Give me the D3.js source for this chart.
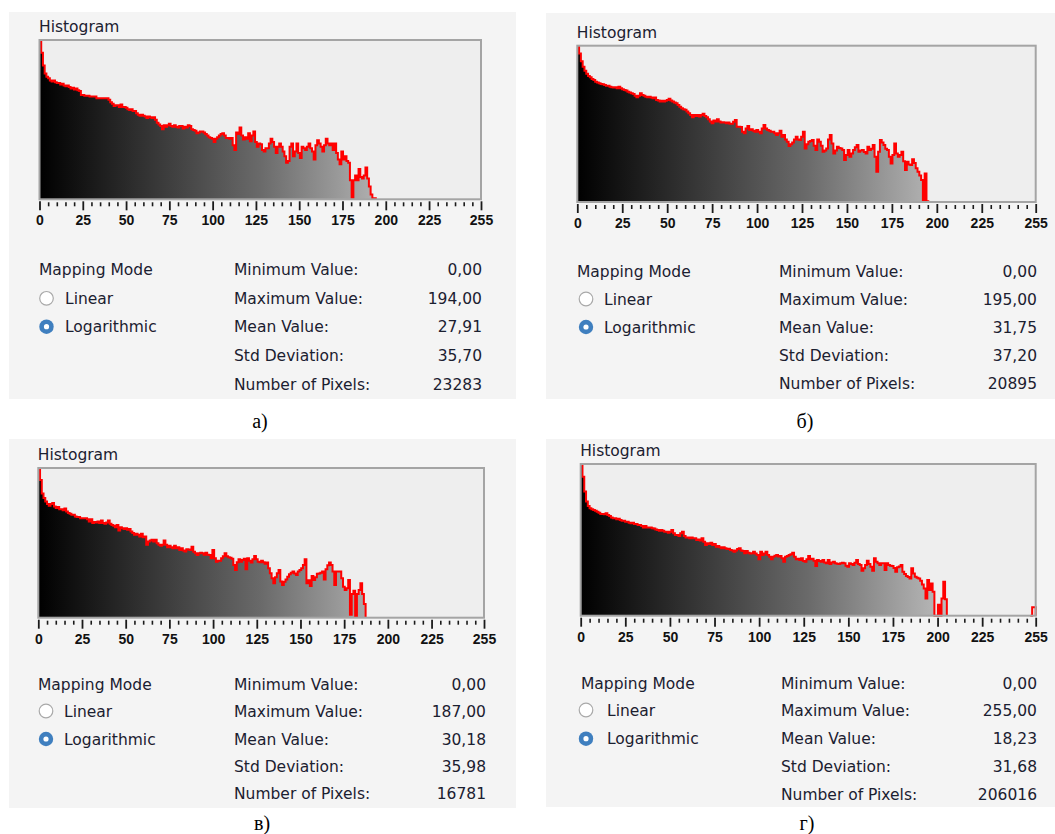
<!DOCTYPE html>
<html>
<head>
<meta charset="utf-8">
<script src="https://cdn.jsdelivr.net/npm/d3@7"></script>
<style>
  body { margin: 0; background: #fff; }
  svg { display: block; }
</style>
</head>
<body>
<svg id="chart" width="1055" height="834"></svg>
<script>
// tick labels of the 0..255 grey-level axis
const majorTicks = [0, 25, 50, 75, 100, 125, 150, 175, 200, 225, 255];
const statLabels = ["Minimum Value:", "Maximum Value:", "Mean Value:", "Std Deviation:", "Number of Pixels:"];
const modeLabels = ["Mapping Mode", "Linear", "Logarithmic"];
const captions = ["а)", "б)", "в)", "г)"];

const statsA = ["0,00", "194,00", "27,91", "35,70", "23283"];
const statsB = ["0,00", "195,00", "31,75", "37,20", "20895"];
const statsC = ["0,00", "187,00", "30,18", "35,98", "16781"];
const statsD = ["0,00", "255,00", "18,23", "31,68", "206016"];

// histogram heights per grey level (0..255), logarithmic mapping, % of plot height
const histA = [
  99.5, 92, 84, 79, 77, 76, 74.5, 74, 74.5, 73.5,
  73, 73, 72, 72.5, 71.5, 71, 71.5, 70.5, 69.5, 70,
  69, 69.5, 68.5, 68, 65.5, 65.5, 65, 65, 65, 64.5,
  64.5, 64.5, 64.5, 63.5, 63.5, 63.5, 63.5, 63.5, 63.5, 63.5,
  62.5, 61, 60, 58.5, 59, 59, 58, 59.5, 58, 58,
  57.5, 56.5, 56, 56.5, 55.5, 55.5, 54, 53, 52.5, 53,
  52.5, 52, 51, 52, 51.5, 51, 51.5, 50, 48, 47,
  46, 44, 46.5, 45.5, 46.5, 47.5, 46, 45.5, 46.5, 45.5,
  45, 46, 46, 44.5, 45.5, 45, 46.5, 46, 44, 43.5,
  43, 41.5, 42, 42.5, 42.5, 42, 41, 40, 39, 38.5,
  38, 36, 38, 39, 40, 41, 41.5, 40, 38.5, 38.5,
  38, 38.5, 34, 31, 42, 41, 45, 40, 37.5, 39,
  38, 41.5, 36.5, 40, 42.5, 36, 33, 35, 34.5, 31,
  30, 32, 32, 35, 38, 36, 33, 29, 33, 35,
  33, 30, 27, 23, 24, 33, 35, 27, 30, 35,
  29, 26, 33, 32, 31, 33, 35, 32, 30, 25,
  34, 37, 35, 33, 30, 34, 38, 35, 34, 35,
  31, 35, 29, 25, 22, 30, 25, 27, 24, 23,
  12, 1, 12, 15, 12, 19, 14, 13, 15, 20,
  13, 8, 3, 0.6, 0.6, 0, 0, 0, 0, 0,
  0, 0, 0, 0, 0, 0, 0, 0, 0, 0,
  0, 0, 0, 0, 0, 0, 0, 0, 0, 0,
  0, 0, 0, 0, 0, 0, 0, 0, 0, 0,
  0, 0, 0, 0, 0, 0, 0, 0, 0, 0,
  0, 0, 0, 0, 0, 0, 0, 0, 0, 0,
  0, 0, 0, 0, 0, 0
];

const histB = [
  99.4, 95, 90, 86.6, 84, 82, 80.6, 79.8, 78.7, 78,
  77, 76.4, 76, 75.5, 75.3, 74.9, 74.3, 74.3, 73.8, 73.4,
  73.2, 73.4, 72.8, 73.8, 72.8, 72.1, 71.7, 71.3, 70.6, 70,
  69.6, 69.1, 68, 67, 67.9, 69.6, 68.5, 67.9, 67.4, 67,
  67.4, 66.8, 66.4, 66.8, 65.3, 64.9, 64.3, 64.7, 64.3, 64.7,
  65.3, 66, 64.9, 64.3, 63.6, 63.2, 62.1, 61, 60, 59.4,
  59, 57.9, 56.8, 55.7, 54.3, 55.7, 55.1, 55.7, 54.7, 55.7,
  56.4, 55.1, 54.3, 53, 51.5, 50.4, 52.1, 51.5, 53, 51.5,
  50.9, 51, 50.9, 50.4, 50.9, 50, 50, 51.4, 52.5, 48.2,
  48.2, 48, 45, 44, 47, 48.6, 46, 46.5, 45.6, 45,
  46, 45, 44, 47, 49.3, 47, 46, 45.6, 45, 45,
  44, 42.9, 44, 45.6, 41.8, 42.9, 40, 38.6, 35.8, 37,
  38, 40, 41.8, 40, 39.7, 41.8, 45, 34.3, 37, 38.6,
  39, 39.7, 36, 33.3, 40, 38.6, 36, 32.2, 33, 34.3,
  40, 42.9, 37.5, 31.1, 33, 35.4, 34.5, 34.3, 33.3, 26.9,
  30, 33.3, 28.9, 31, 33.3, 35, 36.5, 32.2, 33, 33.3,
  32, 31.1, 35.4, 33.3, 34, 36.5, 28.9, 19.4, 32.2, 39.7,
  38, 36.5, 34, 33.3, 28.9, 24.7, 30, 37.5, 31.1, 28.9,
  30, 32.2, 26, 20.5, 25.8, 24, 23.7, 27.3, 25, 21.6,
  19.4, 17, 14, 0.5, 18.3, 0.5, 0, 0, 0, 0,
  0, 0, 0, 0, 0, 0, 0, 0, 0, 0,
  0, 0, 0, 0, 0, 0, 0, 0, 0, 0,
  0, 0, 0, 0, 0, 0, 0, 0, 0, 0,
  0, 0, 0, 0, 0, 0, 0, 0, 0, 0,
  0, 0, 0, 0, 0, 0, 0, 0, 0, 0,
  0, 0, 0, 0, 0, 0
];

const histC = [
  99.3, 92, 83, 80, 77.7, 76, 74.8, 76, 76.6, 74.3,
  73.2, 73.9, 72.5, 72.5, 71.7, 73, 71, 69.9, 69.4, 68.8,
  68.8, 67.6, 67.2, 67.2, 66.5, 66.5, 66.5, 66.5, 65.8, 64.3,
  65.8, 63.2, 64, 63.6, 64.3, 63.2, 65, 63.2, 62.7, 63.6,
  65, 62.7, 62, 61.4, 60.5, 62, 58.3, 60.5, 59.8, 59.2,
  59.8, 58.7, 59.2, 57.6, 56.5, 55.4, 56, 55.4, 54.2, 56,
  53.8, 54.2, 48.7, 50.9, 51.6, 52, 50.9, 52, 49.8, 48.7,
  48, 48.7, 51.6, 48.7, 47.1, 48, 47.1, 46.4, 48, 46.4,
  47.1, 45.3, 46.4, 44.9, 44.2, 45.8, 45.5, 45.2, 47.4, 44,
  43, 41.9, 43, 43.4, 43, 42, 43.4, 42, 41.9, 39.7,
  45.2, 39.7, 37.4, 38, 38, 39.7, 41, 43, 41, 40.4,
  40, 39.4, 35.2, 31.9, 37, 39, 37.4, 38.5, 39.4, 32.3,
  39.7, 38, 36.8, 39, 41.2, 39, 37.4, 37, 38, 37,
  36.1, 36.8, 33, 29.7, 26.3, 23, 27, 29.7, 31.9, 24.1,
  21.8, 24, 25.6, 27.4, 29, 30.1, 30.8, 29.5, 28.6, 30.8,
  31.9, 33, 35.2, 39, 23, 25, 21.1, 27.9, 25.2, 27,
  29.3, 29.5, 30.1, 30.8, 25.6, 32.3, 35, 36.8, 35.2, 30.8,
  21.8, 30.8, 30.8, 30.8, 26.3, 20.7, 18.5, 19.6, 25.2, 2,
  15.8, 18, 1, 15.8, 18.5, 23, 15.8, 9.1, 0, 0,
  0, 0, 0, 0, 0, 0, 0, 0, 0, 0,
  0, 0, 0, 0, 0, 0, 0, 0, 0, 0,
  0, 0, 0, 0, 0, 0, 0, 0, 0, 0,
  0, 0, 0, 0, 0, 0, 0, 0, 0, 0,
  0, 0, 0, 0, 0, 0, 0, 0, 0, 0,
  0, 0, 0, 0, 0, 0, 0, 0, 0, 0,
  0, 0, 0, 0, 0, 0
];

const histD = [
  99.3, 91.6, 81.8, 75.2, 72.3, 70.8, 70.1, 69.7, 69.2, 68.6,
  67.9, 67, 67, 66.8, 67.5, 66.4, 65.7, 64.8, 64.2, 64.2,
  63.5, 63.9, 63.1, 62.6, 62.6, 62, 62, 61.3, 60.9, 61.3,
  60.4, 60.4, 59.8, 59.8, 59.1, 58.2, 59.1, 58.2, 58.2, 58.2,
  57.6, 57.4, 56.9, 56.5, 56, 56.5, 56, 55.4, 55.4, 54.7,
  55.4, 56.5, 54.3, 53.2, 53.2, 52.5, 54.3, 55.4, 52.5, 51.6,
  51.6, 51, 51.6, 51, 51, 49.9, 50.3, 49.5, 51, 48.8,
  46.6, 47.7, 47.3, 48.1, 46.6, 47.3, 45.5, 45.9, 45.1, 44.4,
  45.1, 44.5, 44, 44.2, 43.3, 43, 42.2, 43, 44, 44.4,
  43, 42.6, 41.1, 42.6, 41.5, 41, 41.1, 42.2, 41, 40,
  37.2, 42.2, 40, 41, 42.2, 40, 38.9, 37.2, 38.9, 39.5,
  40, 39, 39.3, 37.8, 35.6, 38.9, 39.3, 40, 40.5, 41.5,
  38.9, 37.2, 37.5, 36.7, 37.8, 36, 35.6, 37.2, 39.3, 37.2,
  37.5, 36.3, 32.8, 36.7, 36, 35.6, 36.7, 35, 34.5, 36.7,
  34.1, 35, 35.6, 34.5, 34.3, 34.1, 34.5, 34.9, 34.5, 33,
  32.3, 34.5, 34, 33.4, 34.9, 36.7, 34, 33.4, 29.7, 31.2,
  33.5, 36.3, 34, 32.3, 29.7, 37.8, 35.6, 34.5, 33.4, 34.5,
  34.5, 30.1, 34.5, 33.4, 33, 32.8, 31.5, 29, 31.9, 32.5,
  33.4, 29, 27.5, 26.1, 25.5, 24.6, 31.2, 27.9, 25.7, 25,
  24.6, 23.1, 20.5, 18, 11.4, 23.5, 16.9, 21.3, 15.8, 0,
  0, 7.2, 0, 11.4, 22.4, 10.8, 0, 0, 0, 0,
  0, 0, 0, 0, 0, 0, 0, 0, 0, 0,
  0, 0, 0, 0, 0, 0, 0, 0, 0, 0,
  0, 0, 0, 0, 0, 0, 0, 0, 0, 0,
  0, 0, 0, 0, 0, 0, 0, 0, 0, 0,
  0, 0, 0, 0, 5.6, 5.6
];

// layout of the four screenshots: panel box, plot frame [left, top, right, bottom], text rows
const panels = [
  { hist: histA, stats: statsA, caption: captions[0], box: [9, 12, 516, 399], plot: [39.5, 40, 481, 199.3],
    modeX: 39, radioX: 46.5, radioTextX: 65, statX: 234, valueX: 482,
    rows: [269.3, 298.3, 326.7, 355.7, 384.3], cap: [260, 421] },
  { hist: histB, stats: statsB, caption: captions[1], box: [546, 13, 1055, 399], plot: [577.3, 45.7, 1035.7, 202],
    modeX: 577, radioX: 586, radioTextX: 604, statX: 779, valueX: 1037,
    rows: [271, 299, 327, 355, 383], cap: [805, 421] },
  { hist: histC, stats: statsC, caption: captions[2], box: [9, 439, 516, 808], plot: [38.3, 468, 484, 617.7],
    modeX: 38, radioX: 46, radioTextX: 64, statX: 234, valueX: 486,
    rows: [684, 711, 739, 766, 793], cap: [262, 823] },
  { hist: histD, stats: statsD, caption: captions[3], box: [546, 439, 1055, 807], plot: [580.7, 464, 1035.7, 615.7],
    modeX: 581, radioX: 586, radioTextX: 607, statX: 781, valueX: 1037,
    rows: [683.3, 710, 738.7, 766.7, 794], cap: [807, 823] }
];

const uiFont = "'DejaVu Sans', Verdana, sans-serif";
const textColor = "#1b2030";

const svg = d3.select("#chart");
const defs = svg.append("defs");

panels.forEach((p, k) => {
  const g = svg.append("g");
  const [L, T, R, B] = p.plot;
  const hist = p.hist;

  // panel background
  g.append("rect")
    .attr("x", p.box[0]).attr("y", p.box[1])
    .attr("width", p.box[2] - p.box[0]).attr("height", p.box[3] - p.box[1])
    .attr("fill", "#f4f4f4");

  const x = d3.scaleLinear().domain([0, 256]).range([L, R]);
  const xt = d3.scaleLinear().domain([0, 255]).range([L, R]);
  const y = d3.scaleLinear().domain([0, 100]).range([B, T]);

  // grey ramp under the histogram
  const grad = defs.append("linearGradient")
    .attr("id", "ramp" + k)
    .attr("gradientUnits", "userSpaceOnUse")
    .attr("x1", L).attr("x2", R).attr("y1", 0).attr("y2", 0);
  grad.append("stop").attr("offset", 0).attr("stop-color", "#000");
  grad.append("stop").attr("offset", 0.5).attr("stop-color", "#6a6a6a");
  grad.append("stop").attr("offset", 1).attr("stop-color", "#f0f0f0");

  g.append("text")
    .attr("x", L - 0.5).attr("y", T - 8)
    .attr("font-family", uiFont).attr("font-size", 15.5)
    .attr("fill", textColor)
    .text("Histogram");

  g.append("rect")
    .attr("x", L).attr("y", T).attr("width", R - L).attr("height", B - T)
    .attr("fill", "#eeeeee");

  const pts = hist.map((v, i) => ({ i, v })).concat([{ i: 256, v: 0 }]);

  const area = d3.area()
    .curve(d3.curveStepAfter)
    .x(d => x(d.i))
    .y0(B)
    .y1(d => y(d.v));

  g.append("path")
    .datum(pts)
    .attr("d", area)
    .attr("fill", `url(#ramp${k})`);

  const line = d3.line()
    .curve(d3.curveStepAfter)
    .defined(d => d.v > 0 || hist[d.i - 1] > 0 || hist[d.i + 1] > 0)
    .x(d => x(d.i))
    .y(d => y(d.v));

  g.append("path")
    .datum(pts)
    .attr("d", line)
    .attr("fill", "none")
    .attr("stroke", "#ff0000")
    .attr("stroke-width", 2);

  g.append("rect")
    .attr("x", L).attr("y", T).attr("width", R - L).attr("height", B - T)
    .attr("fill", "none")
    .attr("stroke", "#a4a4a4")
    .attr("stroke-width", 2);

  // minor ticks every 5 levels
  const minorTicks = d3.range(5, 255, 5).filter(v => !majorTicks.includes(v));
  g.append("g")
    .attr("transform", `translate(0,${B + 3})`)
    .call(d3.axisBottom(xt).tickValues(minorTicks).tickSize(4).tickFormat(""))
    .call(s => s.select(".domain").remove())
    .call(s => s.selectAll("line").attr("stroke", "#1a1a1a").attr("stroke-width", 1.6));

  g.append("g")
    .attr("transform", `translate(0,${B + 2})`)
    .call(d3.axisBottom(xt).tickValues(majorTicks).tickSize(9).tickPadding(5))
    .call(s => s.select(".domain").remove())
    .call(s => s.selectAll("line").attr("stroke", "#1a1a1a").attr("stroke-width", 1.8))
    .call(s => s.selectAll("text")
      .attr("font-family", "'Liberation Sans', Arial, sans-serif")
      .attr("font-weight", "bold")
      .attr("font-size", 14)
      .attr("fill", "#111"));

  // mapping mode block
  g.append("text")
    .attr("x", p.modeX).attr("y", p.rows[0]).attr("dy", "0.36em")
    .attr("font-family", uiFont).attr("font-size", 15.5).attr("fill", textColor)
    .text(modeLabels[0]);

  [1, 2].forEach(j => {
    const cy = p.rows[j];
    if (j === 1) {
      g.append("circle").attr("cx", p.radioX).attr("cy", cy).attr("r", 6.8)
        .attr("fill", "#fff").attr("stroke", "#a9a9a9").attr("stroke-width", 1.2);
    } else {
      g.append("circle").attr("cx", p.radioX).attr("cy", cy).attr("r", 7.2)
        .attr("fill", "#3f7fbf");
      g.append("circle").attr("cx", p.radioX).attr("cy", cy).attr("r", 2.6)
        .attr("fill", "#fff");
    }
    g.append("text")
      .attr("x", p.radioTextX).attr("y", cy).attr("dy", "0.36em")
      .attr("font-family", uiFont).attr("font-size", 15.5).attr("fill", textColor)
      .text(modeLabels[j]);
  });

  // statistics
  statLabels.forEach((lab, j) => {
    g.append("text")
      .attr("x", p.statX).attr("y", p.rows[j]).attr("dy", "0.36em")
      .attr("font-family", uiFont).attr("font-size", 15.5).attr("fill", textColor)
      .text(lab);
    g.append("text")
      .attr("x", p.valueX).attr("y", p.rows[j]).attr("dy", "0.36em")
      .attr("text-anchor", "end")
      .attr("font-family", uiFont).attr("font-size", 15.5).attr("fill", textColor)
      .text(p.stats[j]);
  });

  svg.append("text")
    .attr("x", p.cap[0]).attr("y", p.cap[1]).attr("dy", "0.35em")
    .attr("text-anchor", "middle")
    .attr("font-family", "'Liberation Serif', 'Times New Roman', serif")
    .attr("font-size", 20)
    .attr("fill", "#000")
    .text(p.caption);
});
</script>
</body>
</html>
